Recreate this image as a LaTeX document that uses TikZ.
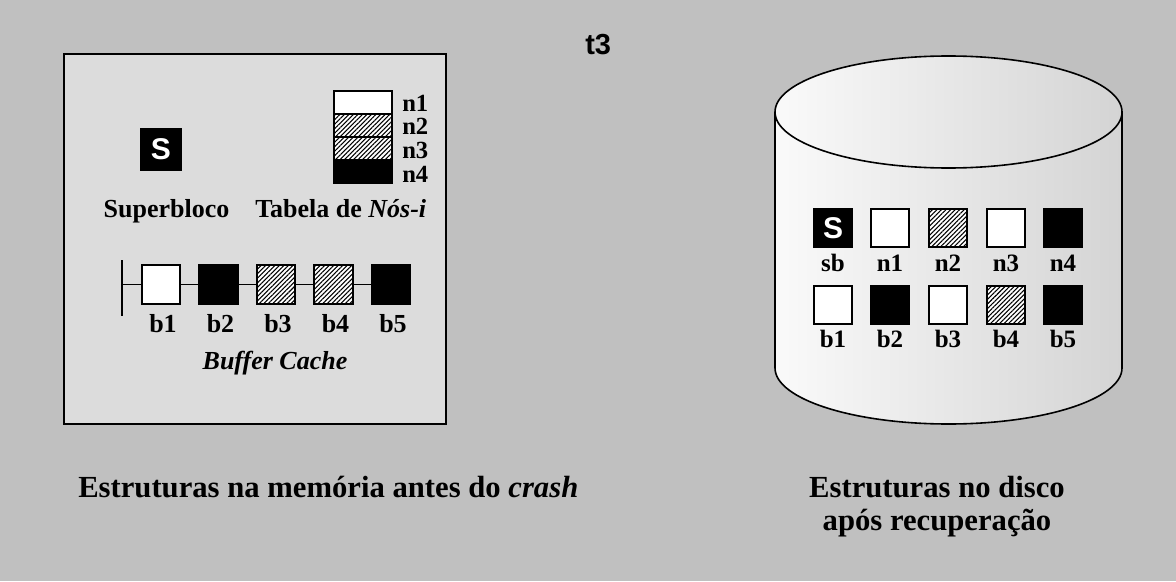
\documentclass[tikz,border=0pt]{standalone}
\usepackage{fontspec}
\setmainfont{Liberation Serif}
\setsansfont{Liberation Sans}
\usetikzlibrary{patterns.meta}

\definecolor{bggray}{HTML}{C0C0C0}
\definecolor{boxlight}{HTML}{FCFCFC}
\definecolor{boxgray}{HTML}{DCDCDC}
\definecolor{cyllight}{HTML}{FAFAFA}
\definecolor{cyldark}{HTML}{D4D4D4}

\newcommand{\capfont}{\bfseries\fontsize{23}{25}\selectfont}
\newcommand{\lblfont}{\bfseries\fontsize{19.5}{20}\selectfont}
\newcommand{\tabfont}{\bfseries\fontsize{18.5}{19}\selectfont}
\newcommand{\dskfont}{\bfseries\fontsize{18.75}{20}\selectfont}
\newcommand{\sfont}{\sffamily\bfseries\fontsize{22.5}{24}\selectfont}

\tikzset{
  hatch/.style={preaction={fill=white}, pattern={Lines[angle=45, distance=2.4pt, line width=0.8pt]}},
  cell/.style={draw=black, line width=1.5pt, minimum size=29pt, inner sep=0pt},
  whitecell/.style={cell, fill=white},
  blackcell/.style={cell, fill=black},
  hatchcell/.style={cell, hatch},
  supercell/.style={blackcell, text=white, font=\sfont},
  tabcell/.style={draw=black, line width=1.5pt, minimum width=43.5pt, minimum height=17.25pt, inner sep=0pt},
  lbl/.style={font=\lblfont, inner sep=0pt, anchor=base},
  tablbl/.style={font=\tabfont, inner sep=0pt, anchor=base west},
  dsk/.style={font=\dskfont, inner sep=0pt, anchor=base},
}

\begin{document}
\begin{tikzpicture}[x=0.75pt,y=-0.75pt]
\fill[bggray] (0,0) rectangle (1176,581);
\useasboundingbox (0,0) rectangle (1176,581);

\node[font=\sffamily\bfseries\fontsize{21.75}{23}\selectfont, inner sep=0pt, anchor=base west] (title) at (585,55) {t3};

% memory
\shade[top color=boxgray, middle color=boxlight, bottom color=boxgray] (64,54) rectangle (446,424);
\draw[line width=2pt] (64,54) rectangle (446,424);

\node[supercell, minimum size=30pt] (s) at (161,149.5) {S};
\node[lbl] (superbloco) at (166.5,217) {Superbloco};

\node[tabcell, fill=white] (tn1) at (363,102.5) {};
\node[tabcell, hatch] (tn2) at (363,125.5) {};
\node[tabcell, hatch] (tn3) at (363,148.5) {};
\node[tabcell, fill=black] (tn4) at (363,171.5) {};
\node[tablbl] (ln1) at (402,112) {n1};
\node[tablbl] (ln2) at (402,135) {n2};
\node[tablbl] (ln3) at (402,158) {n3};
\node[tablbl] (ln4) at (402,182) {n4};
\node[lbl, anchor=base west] (tabela) at (255,217) {Tabela de \textit{Nós-i}};

% buffer cache
\coordinate (bartop) at (122,260);
\coordinate (barbot) at (122,316);
\coordinate (barmid) at (122,284.5);
\draw[line width=1.5pt] (bartop) -- (barbot);
\node[whitecell] (cb1) at (161,284.5) {};
\node[blackcell] (cb2) at (218.5,284.5) {};
\node[hatchcell] (cb3) at (276,284.5) {};
\node[hatchcell] (cb4) at (333.5,284.5) {};
\node[blackcell] (cb5) at (391,284.5) {};
\draw[line width=1.4pt] (barmid) -- (cb1.west);
\foreach \a/\b in {1/2,2/3,3/4,4/5} {\draw[line width=1.4pt] (cb\a.east) -- (cb\b.west);}
\foreach \i/\xx in {1/163,2/220.5,3/278,4/335.5,5/393} {\node[lbl] (lb\i) at (\xx,332) {b\i};}
\node[lbl, font=\bfseries\itshape\fontsize{19.5}{20}\selectfont] (cache) at (275,369) {Buffer Cache};

% disk
\shade[left color=cyllight, right color=cyldark] (948.5,368) ellipse[x radius=173.5, y radius=56];
\shade[left color=cyllight, right color=cyldark] (775,112) rectangle (1122,368);
\draw[line width=1.2pt] (775,112) -- (775,368) arc[start angle=180, end angle=0, x radius=173.5, y radius=56] -- (1122,112);
\shade[left color=cyllight, right color=cyldark] (948.5,112) ellipse[x radius=173.5, y radius=56];
\draw[line width=1.2pt] (948.5,112) ellipse[x radius=173.5, y radius=56];

\node[supercell] (dsb) at (833,228) {S};
\node[whitecell] (dn1) at (890,228) {};
\node[hatchcell] (dn2) at (948,228) {};
\node[whitecell] (dn3) at (1006,228) {};
\node[blackcell] (dn4) at (1063,228) {};
\node[whitecell] (db1) at (833,305) {};
\node[blackcell] (db2) at (890,305) {};
\node[whitecell] (db3) at (948,305) {};
\node[hatchcell] (db4) at (1006,305) {};
\node[blackcell] (db5) at (1063,305) {};
\node[dsk] (lsb) at (833,271) {sb};
\foreach \i/\xx in {1/890,2/948,3/1006,4/1063} {\node[dsk] (ldn\i) at (\xx,271) {n\i};}
\foreach \i/\xx in {1/833,2/890,3/948,4/1006,5/1063} {\node[dsk] (ldb\i) at (\xx,347) {b\i};}

% captions
\node[font=\capfont, inner sep=0pt, anchor=base west] (capmem) at (78,497) {Estruturas na memória antes do \textit{crash}};
\node[font=\capfont, inner sep=0pt, anchor=base] (capdisk) at (937,497) {Estruturas no disco};
\node[font=\capfont, inner sep=0pt, anchor=base] (capdisk2) at (937,530) {após recuperação};
\end{tikzpicture}
\end{document}
